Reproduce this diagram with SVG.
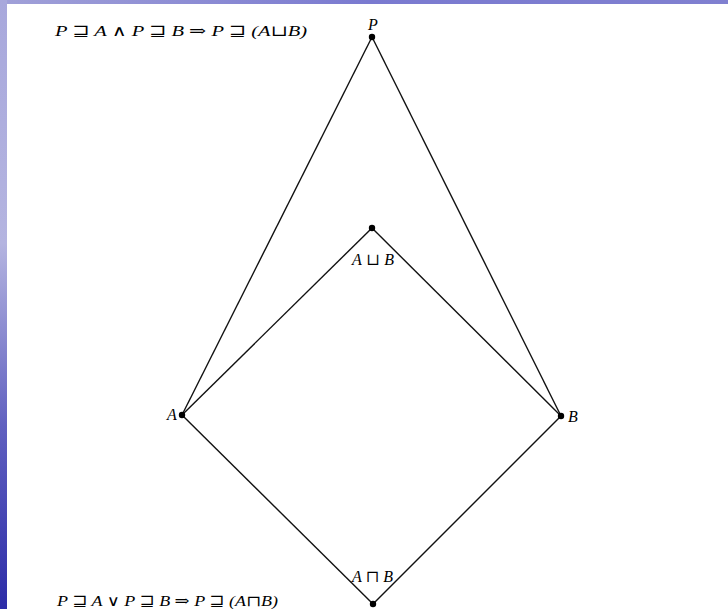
<svg xmlns="http://www.w3.org/2000/svg" width="728" height="609" viewBox="0 0 728 609">
<defs>
<linearGradient id="side" x1="0" y1="0" x2="0" y2="1">
<stop offset="0" stop-color="#a8a8dc"/>
<stop offset="0.4" stop-color="#b4b4e0"/>
<stop offset="0.7" stop-color="#6060c0"/>
<stop offset="1" stop-color="#2c2ca8"/>
</linearGradient>
<linearGradient id="top" x1="0" y1="0" x2="1" y2="0">
<stop offset="0" stop-color="#a0a0d8"/>
<stop offset="0.5" stop-color="#7a7ad0"/>
<stop offset="1" stop-color="#8080d0"/>
</linearGradient>
<style>
.e{stroke:#111;stroke-width:1.4;fill:none}
.d{fill:#000}
.t{font-family:"Liberation Serif","DejaVu Serif",serif;font-style:italic;font-size:16px;fill:#000}
.f{font-family:"Liberation Serif","DejaVu Serif",serif;font-style:italic;font-size:15px;fill:#000}
</style>
</defs>
<rect x="0" y="0" width="728" height="609" fill="#fff"/>
<rect x="0" y="0" width="7" height="609" fill="url(#side)"/>
<rect x="7" y="0" width="721" height="4" fill="url(#top)"/>
<text class="f" x="55" y="36" textLength="252" lengthAdjust="spacingAndGlyphs">P ⊒ A ∧ P ⊒ B ⇒ P ⊒ (A⊔B)</text>
<text class="f" x="57" y="606" textLength="221" lengthAdjust="spacingAndGlyphs">P ⊒ A ∨ P ⊒ B ⇒ P ⊒ (A⊓B)</text>
<g id="connectors">
<line class="e" x1="372" y1="37" x2="182" y2="415"/>
<line class="e" x1="372" y1="37" x2="561" y2="416"/>
<line class="e" x1="372" y1="228" x2="182" y2="415"/>
<line class="e" x1="372" y1="228" x2="561" y2="416"/>
<line class="e" x1="182" y1="415" x2="373" y2="604"/>
<line class="e" x1="561" y1="416" x2="373" y2="604"/>
</g>
<g id="nodeP"><circle class="d" cx="372" cy="37" r="3.2"/><text class="t" x="373" y="30" text-anchor="middle">P</text></g>
<g id="nodeJoin"><circle class="d" cx="372" cy="228" r="3.2"/><text class="t" x="352" y="265" textLength="42" lengthAdjust="spacing">A⊔B</text></g>
<g id="nodeA"><circle class="d" cx="182" cy="415" r="3.2"/><text class="t" x="172" y="420" text-anchor="middle">A</text></g>
<g id="nodeB"><circle class="d" cx="561" cy="416" r="3.2"/><text class="t" x="573" y="422" text-anchor="middle">B</text></g>
<g id="nodeMeet"><circle class="d" cx="373" cy="604" r="3.2"/><text class="t" x="352" y="582" textLength="41" lengthAdjust="spacing">A⊓B</text></g>
</svg>
